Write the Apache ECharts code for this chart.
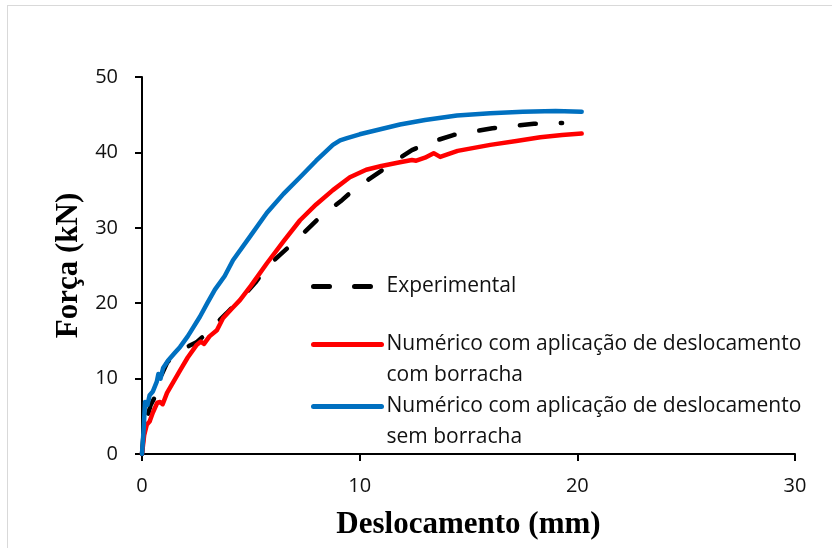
<!DOCTYPE html>
<html>
<head>
<meta charset="utf-8">
<script src="https://cdn.jsdelivr.net/npm/echarts@6/dist/echarts.min.js"></script>
<style>
  html, body { margin: 0; padding: 0; background: #fff; }
  #frame { position: absolute; left: 7px; top: 5px; width: 900px; height: 600px; border: 1px solid #d9d9d9; }
  #main { position: absolute; left: 0; top: 0; width: 832px; height: 548px; }
</style>
</head>
<body>
<div id="frame"></div>
<div id="main"></div>
<script>
// Experimental
const expX = [0, 0.06, 0.2, 0.4, 0.6, 0.9, 1.15, 1.4, 1.75, 2.2, 2.5, 2.97, 3.5, 3.9, 4.6, 5.2, 5.74, 6.3, 6.95, 8.03, 8.8, 9.2, 9.55, 10.3, 11.07, 11.6, 12.4, 13.1, 14.3, 15.1, 16.1, 17.0, 18.0, 19.3]
const expY = [0, 2.3, 4.5, 6.5, 7.6, 10.5, 12.1, 12.9, 13.6, 14.4, 14.8, 16.0, 17.6, 18.7, 20.8, 22.7, 24.8, 26.3, 28.0, 31.0, 32.8, 33.7, 34.6, 36.2, 37.7, 38.8, 40.3, 41.2, 42.3, 42.7, 43.2, 43.5, 43.8, 43.9]

// Numérico com borracha
const comX = [0, 0.1, 0.22, 0.35, 0.5, 0.7, 0.83, 0.95, 1.15, 1.45, 1.75, 2.1, 2.52, 2.7, 2.85, 3.1, 3.44, 3.72, 4.1, 4.5, 5.0, 5.74, 6.5, 7.26, 8.0, 8.77, 9.55, 10.3, 11.0, 11.85, 12.4, 12.6, 13.0, 13.4, 13.7, 14.5, 16.0, 17.2, 18.3, 19.3, 20.2]
const comY = [0, 2.5, 3.9, 4.3, 5.5, 6.8, 6.9, 6.6, 8.1, 9.6, 11.1, 12.8, 14.5, 14.9, 14.6, 15.6, 16.4, 18.0, 19.2, 20.4, 22.3, 25.3, 28.2, 31.0, 33.1, 35.0, 36.7, 37.7, 38.2, 38.7, 39.0, 38.9, 39.3, 39.9, 39.4, 40.2, 41.0, 41.5, 42.0, 42.3, 42.5]

// Numérico sem borracha
const semX = [0, 0.08, 0.14, 0.25, 0.35, 0.5, 0.68, 0.75, 0.85, 0.97, 1.2, 1.5, 1.75, 2.1, 2.66, 3.0, 3.35, 3.8, 4.18, 5.0, 5.74, 6.5, 7.26, 8.0, 8.77, 9.1, 9.42, 10.0, 11.0, 11.85, 13.0, 14.47, 16.0, 17.5, 19.0, 20.2]
const semY = [0, 3.5, 6.9, 6.5, 7.8, 8.3, 9.6, 10.6, 10.0, 11.4, 12.4, 13.4, 14.2, 15.6, 18.2, 20.0, 21.8, 23.6, 25.7, 29.0, 32.0, 34.5, 36.7, 38.9, 41.0, 41.6, 41.9, 42.4, 43.1, 43.7, 44.3, 44.9, 45.2, 45.4, 45.5, 45.4]

const names = ['Experimental', 'Numérico com aplicação de deslocamento\ncom borracha', 'Numérico com aplicação de deslocamento\nsem borracha']

const zip = (xs, ys) => xs.map((v, i) => [v, ys[i]])

const labelFont = 'Open Sans'
const titleFont = 'Liberation Serif'

const myChart = echarts.init(document.getElementById('main'), null, { renderer: 'canvas' })

// two-line labels get an empty first line so the legend line sits beside the first text line
const legendBase = (name, top) => ({
  data: [name],
  left: 306,
  top: top,
  orient: 'vertical',
  itemWidth: 68,
  itemHeight: 14,
  itemGap: 0,
  selectedMode: false,
  itemStyle: { opacity: 0 },
  lineStyle: { width: 5 },
  formatter: (n) => n.indexOf('\n') >= 0 ? ' \n' + n : n,
  textStyle: {
    fontFamily: labelFont,
    fontSize: 21,
    color: '#111',
    lineHeight: 31
  }
})

const option = {
  animation: false,
  grid: { left: 142, right: 37, top: 77, bottom: 94 },
  legend: [
    legendBase(names[0], 266),
    legendBase(names[1], 293),
    legendBase(names[2], 355)
  ],
  xAxis: {
    type: 'value',
    min: 0,
    max: 30,
    interval: 10,
    name: 'Deslocamento (mm)',
    nameLocation: 'middle',
    nameGap: 55,
    nameTextStyle: { fontFamily: titleFont, fontWeight: 'bold', fontSize: 31, color: '#000' },
    axisLine: { show: true, lineStyle: { color: '#000', width: 2 } },
    axisTick: { show: true, length: 7, lineStyle: { color: '#000', width: 2 } },
    axisLabel: { fontFamily: labelFont, fontSize: 20, color: '#111', margin: 22 },
    splitLine: { show: false }
  },
  yAxis: {
    type: 'value',
    min: 0,
    max: 50,
    interval: 10,
    name: 'Força (kN)',
    nameLocation: 'middle',
    nameGap: 56,
    nameRotate: 90,
    nameTextStyle: { fontFamily: titleFont, fontWeight: 'bold', fontSize: 31, color: '#000' },
    axisLine: { show: true, lineStyle: { color: '#000', width: 2 } },
    axisTick: { show: true, length: 7, lineStyle: { color: '#000', width: 2 } },
    axisLabel: { fontFamily: labelFont, fontSize: 20, color: '#111', margin: 24 },
    splitLine: { show: false }
  },
  series: [
    {
      name: names[0],
      type: 'line',
      showSymbol: false,
      symbol: 'none',
      data: zip(expX, expY),
      lineStyle: { color: '#000', width: 4.5, type: [16, 25], cap: 'round' },
      itemStyle: { color: '#000' }
    },
    {
      name: names[1],
      type: 'line',
      showSymbol: false,
      symbol: 'none',
      data: zip(comX, comY),
      lineStyle: { color: '#ff0000', width: 4.5, cap: 'round', join: 'round' },
      itemStyle: { color: '#ff0000' }
    },
    {
      name: names[2],
      type: 'line',
      showSymbol: false,
      symbol: 'none',
      data: zip(semX, semY),
      lineStyle: { color: '#0070c0', width: 4.5, cap: 'round', join: 'round' },
      itemStyle: { color: '#0070c0' }
    }
  ]
}

myChart.setOption(option)
</script>
</body>
</html>
